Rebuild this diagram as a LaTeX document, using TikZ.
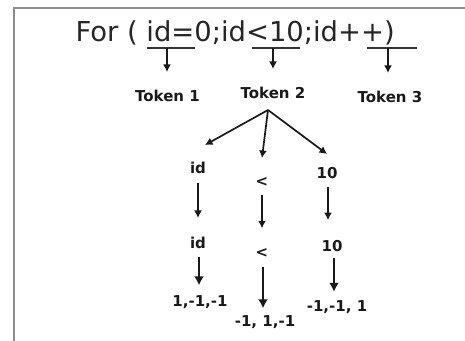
\documentclass[tikz,border=0pt]{standalone}
\usepackage{fontspec}
\setmainfont{DejaVu Sans}
\usetikzlibrary{arrows.meta}
\tikzset{
  px/.style={x=1pt,y=-1pt},
  frameline/.style={draw=black!45,line width=1.8pt},
  headline/.style={font=\fontsize{27.4}{30}\selectfont,text=black!85,inner sep=0pt,anchor=base west},
  lbl/.style={font=\fontsize{15}{18}\selectfont\bfseries,text=black!90,inner sep=0pt},
  uline/.style={draw=black!80,line width=1.5pt},
  thinarr/.style={draw=black!90,line width=1.7pt,-{Latex[length=7.5pt,width=8pt]}},
  thickarr/.style={draw=black!90,line width=2.6pt,-{Latex[length=9pt,width=10pt]}}
}
\begin{document}
\begin{tikzpicture}[px]
\useasboundingbox (0,0) rectangle (465,340);
% frame: only the top and left edges fall inside the page
\draw[frameline] (14,341) -- (14,8) -- (466,8);

% the statement being split into tokens
\node[headline] (stmt) at (75.3,41.7) {For ( id=0;id<10;id++)};

% underlines marking the three tokens
\coordinate (u1a) at (147,48); \coordinate (u1b) at (195,48);
\coordinate (u2a) at (252,48); \coordinate (u2b) at (300,48);
\coordinate (u3a) at (367,48); \coordinate (u3b) at (417,48);
\draw[uline] (u1a) -- (u1b);
\draw[uline] (u2a) -- (u2b);
\draw[uline] (u3a) -- (u3b);
\coordinate (u1) at (167,48);
\coordinate (u2) at (273,48);
\coordinate (u3) at (388,48);

% token names
\node[lbl] (tok1) at (167.5,96) {Token 1};
\node[lbl] (tok2) at (273,93) {Token 2};
\node[lbl] (tok3) at (390,97) {Token 3};

\draw[thinarr,shorten >=18pt] (u1) -- (u1 |- tok1.north);
\draw[thinarr,shorten >=18pt] (u2) -- (u2 |- tok2.north);
\draw[thinarr,shorten >=18pt] (u3) -- (u3 |- tok3.north);

% parts of token 2
\node[lbl] (l1a) at (198,168) {id};
\node[lbl] (l1b) at (262,182) {<};
\node[lbl] (l1c) at (327,173) {10};

\node[lbl] (l2a) at (198,243) {id};
\node[lbl] (l2b) at (262,253) {<};
\node[lbl] (l2c) at (332,246) {10};

\node[lbl] (l3a) at (200,302) {1,-1,-1};
\node[lbl] (l3b) at (265,322) {-1, 1,-1};
\node[lbl] (l3c) at (337,307) {-1,-1, 1};

% branching below token 2
\coordinate (fork) at (268,110);
\coordinate (ta) at (205,145);
\coordinate (tb) at (262,158);
\coordinate (tc) at (327,154);
\draw[thinarr] (fork) -- (ta);
\draw[thinarr] (fork) -- (tb);
\draw[thinarr] (fork) -- (tc);

% first step down
\draw[thinarr,shorten <=9pt,shorten >=19pt] (l1a) -- (l2a);
\draw[thinarr,shorten <=8.5pt,shorten >=20pt] (l1b) -- (l1b |- l2b.north);
\draw[thinarr,shorten <=8.5pt,shorten >=20pt] ([xshift=1pt]l1c.south) -- ([xshift=1pt]l1c.south |- l2c.north);

% second step down
\draw[thickarr,shorten <=8pt,shorten >=10pt] ([xshift=1pt]l2a.south) -- ([xshift=1pt]l2a.south |- l3a.north);
\draw[thickarr,shorten <=9pt,shorten >=7pt] ([xshift=1pt]l2b.south) -- ([xshift=1pt]l2b.south |- l3b.north);
\draw[thickarr,shorten <=6.5pt,shorten >=8.5pt] ([xshift=2pt]l2c.south) -- ([xshift=2pt]l2c.south |- l3c.north);
\end{tikzpicture}
\end{document}
